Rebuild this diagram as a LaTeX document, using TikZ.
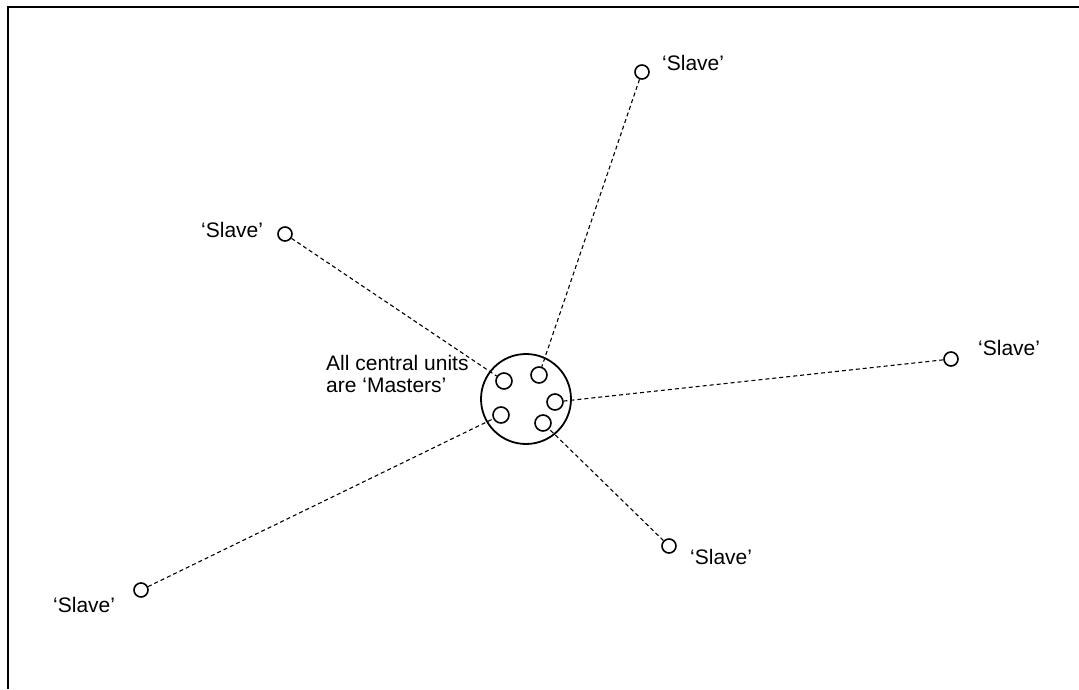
\documentclass[tikz,border=0pt]{standalone}
\usepackage{fontspec}
\setmainfont{Liberation Sans}
\usepackage{tikz}
\usetikzlibrary{calc}

\begin{document}
\begin{tikzpicture}[x=1pt, y=-1pt,
  unit/.style={circle, draw=black, line width=1.6pt, minimum size=16pt,
    inner sep=0pt},
  slave/.style={circle, draw=black, line width=1.6pt, minimum size=14pt,
    inner sep=0pt},
  hub/.style={circle, draw=black, line width=1.8pt, minimum size=90pt,
    inner sep=0pt},
  link/.style={dashed, dash pattern=on 4pt off 3pt, line width=1.1pt, black},
  lbl/.style={font=\fontsize{21}{22}\selectfont, anchor=base west,
    inner sep=0pt},
]
\useasboundingbox (0,0) rectangle (1079,689);
% ====== FRAME ======
\draw[line width=2.6pt] (8,689) -- (8,7) -- (1079,7);
%
% ====== CENTRAL HUB WITH MASTERS ======
\node[hub] (hub) at (526,399) {};
\node[unit] (m_ul) at (504,381) {};
\node[unit] (m_ur) at (539,375) {};
\node[unit] (m_r)  at (555,402) {};
\node[unit] (m_ll) at (501,415) {};
\node[unit] (m_lr) at (543,423) {};
\node[lbl, align=left] (masters) at (326,392)
  {All central units\\are `Masters'};
%
% ====== SLAVES ======
\node[slave] (s_top) at (642,72) {};
\node[slave] (s_ul)  at (285,234) {};
\node[slave] (s_r)   at (951,359) {};
\node[slave] (s_lr)  at (669,546) {};
\node[slave] (s_ll)  at (141,590) {};
\node[lbl] (s_top_l) at (662,70)  {`Slave'};
\node[lbl] (s_ul_l)  at (201,237) {`Slave'};
\node[lbl] (s_r_l)   at (978,355) {`Slave'};
\node[lbl] (s_lr_l)  at (690,564) {`Slave'};
\node[lbl] (s_ll_l)  at (53,612)  {`Slave'};
%
% ====== LINKS ======
\draw[link] (s_top) -- (m_ur);
\draw[link] (s_ul) -- (m_ul);
\draw[link] (s_r) -- (m_r);
\draw[link] (s_lr) -- (m_lr);
\draw[link] (s_ll) -- (m_ll);
\end{tikzpicture}
\end{document}
